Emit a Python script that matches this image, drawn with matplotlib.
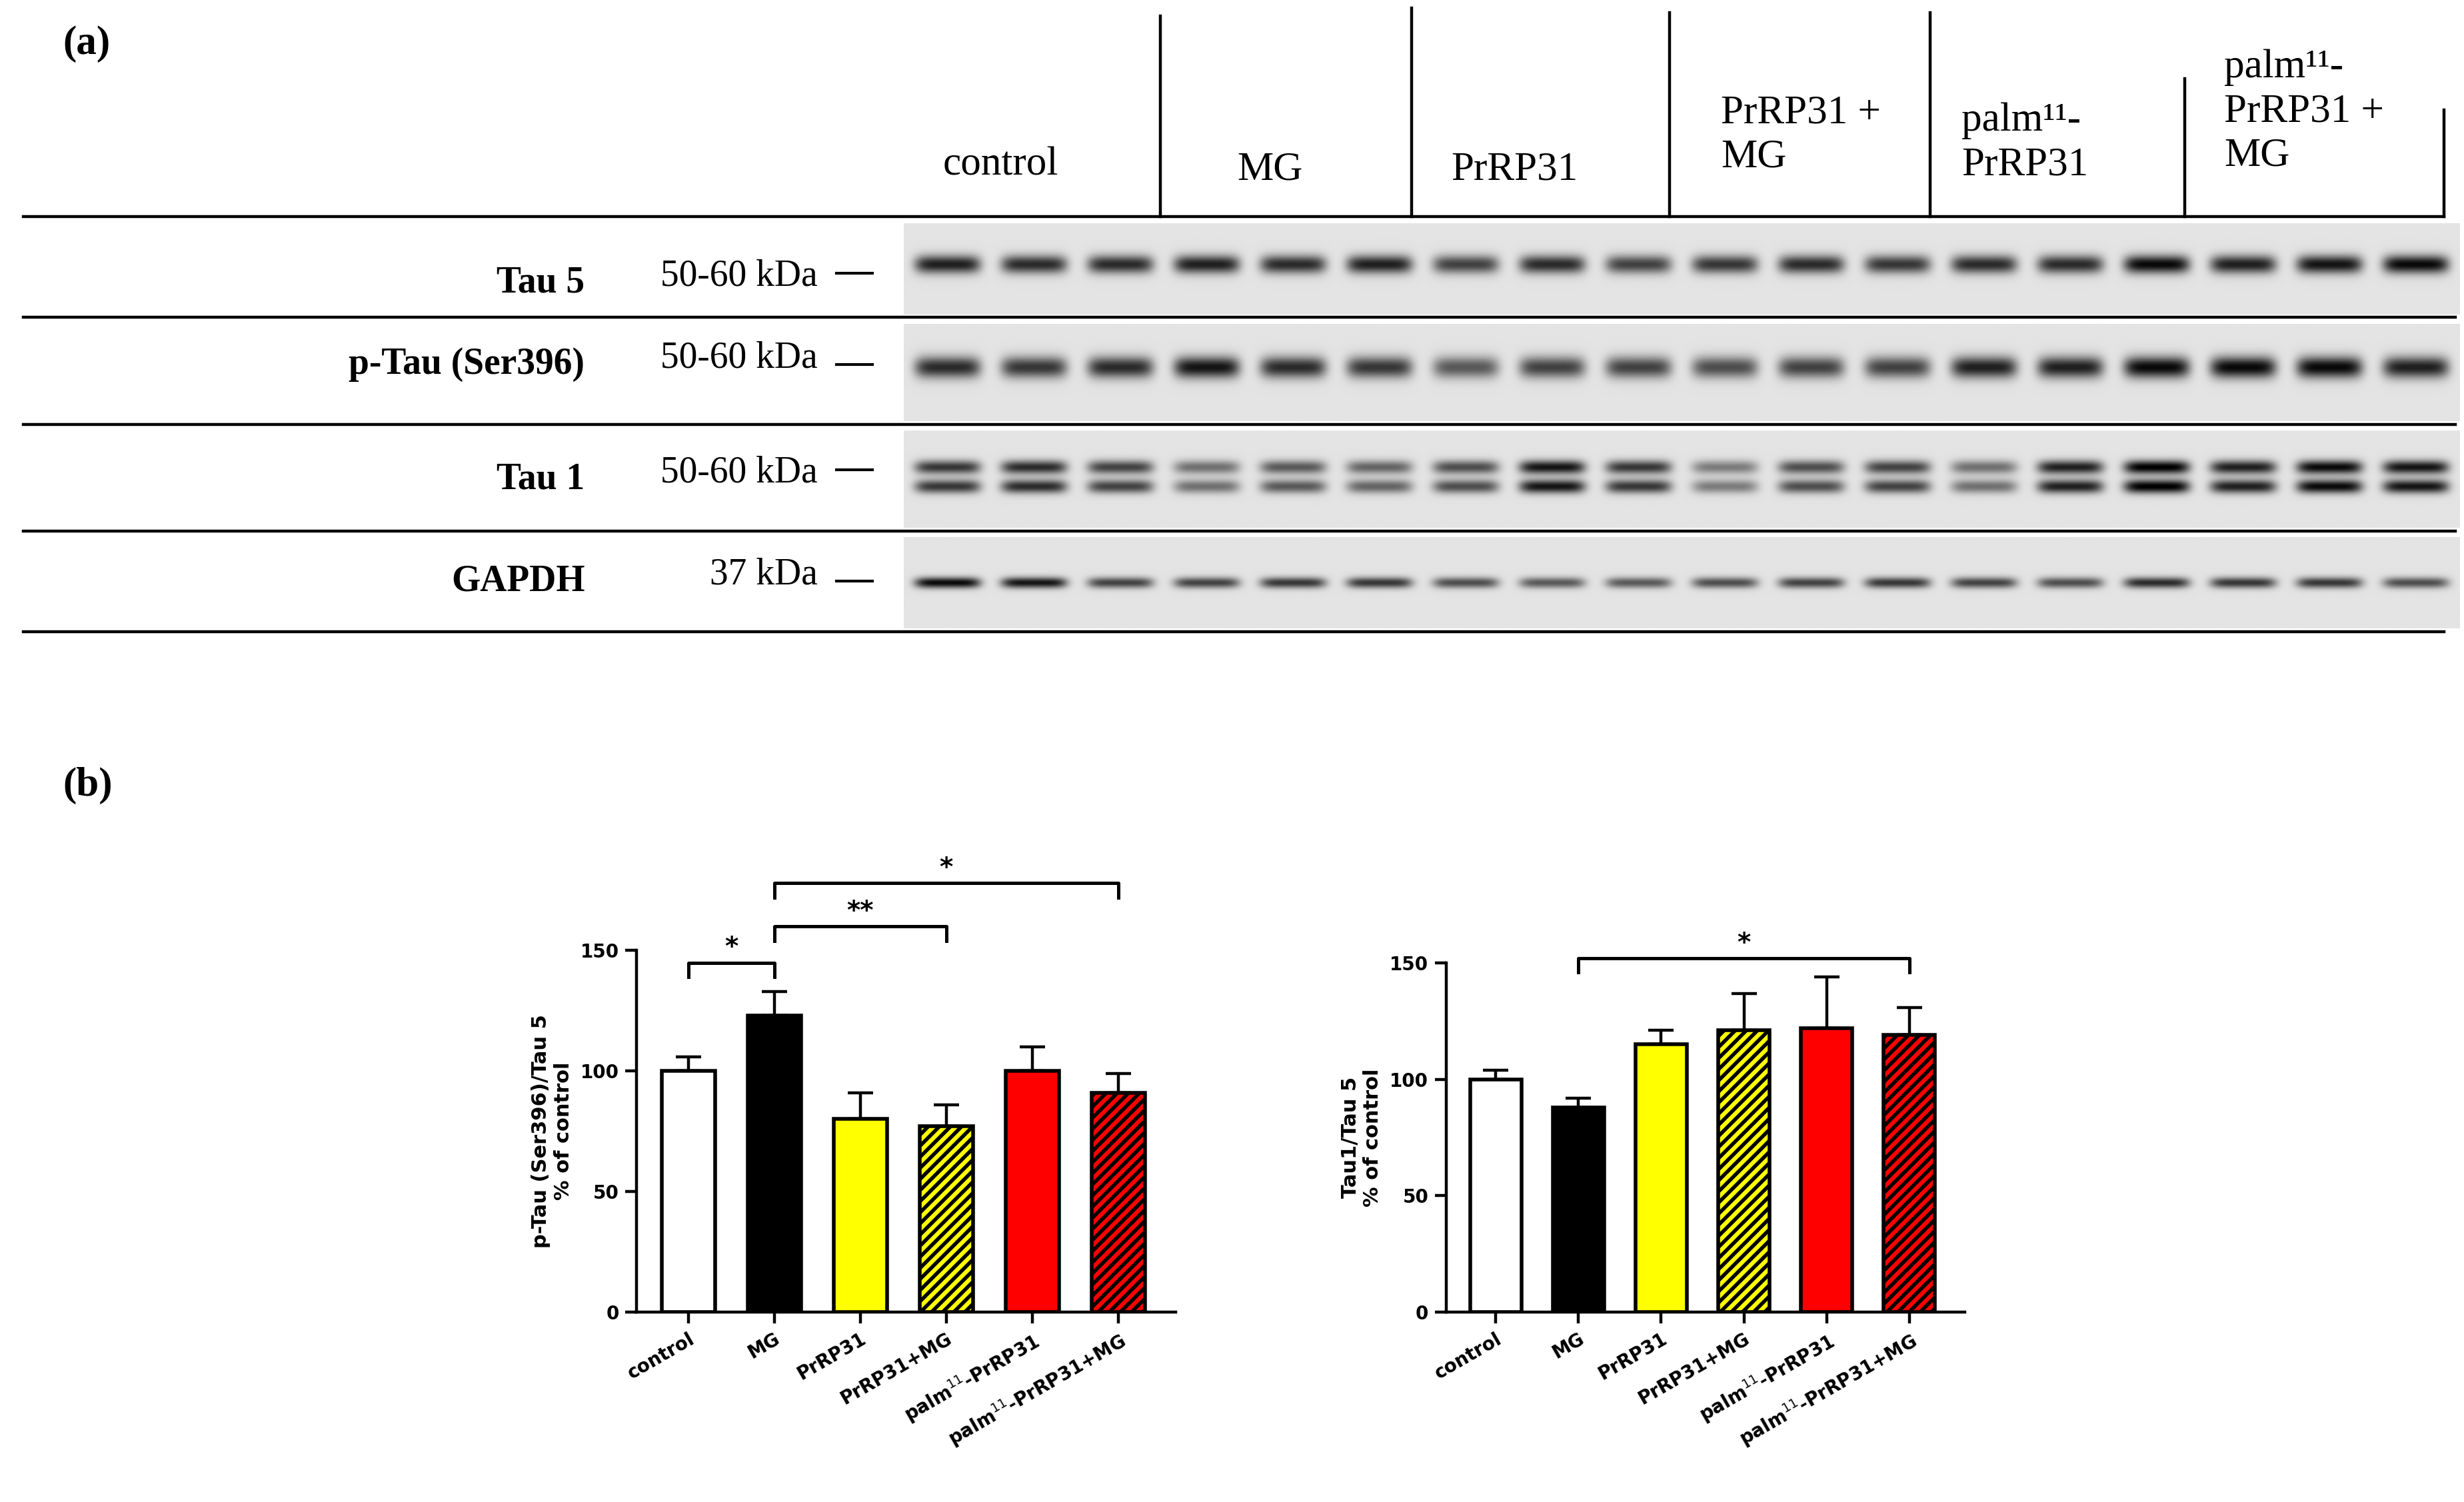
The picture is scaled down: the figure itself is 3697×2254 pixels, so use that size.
import numpy as np
import matplotlib
matplotlib.use("Agg")
import matplotlib.pyplot as plt
from matplotlib.lines import Line2D

# ---- data ----
groups = ["control", "MG", "PrRP31", "PrRP31+MG", "palm$^{11}$-PrRP31", "palm$^{11}$-PrRP31+MG"]
header_labels = ["control", "MG", "PrRP31", "PrRP31 +\nMG", "palm¹¹-\nPrRP31", "palm¹¹-\nPrRP31 +\nMG"]
blot_names = ["Tau 5", "p-Tau (Ser396)", "Tau 1", "GAPDH"]
blot_kda = ["50-60 kDa", "50-60 kDa", "50-60 kDa", "37 kDa"]
tau5 = [0.85, 0.8, 0.8, 0.85, 0.8, 0.85, 0.7, 0.8, 0.7, 0.75, 0.8, 0.75, 0.8, 0.8, 0.95, 0.85, 0.9, 0.95]
ptau = [0.8, 0.75, 0.8, 0.9, 0.8, 0.75, 0.6, 0.7, 0.7, 0.65, 0.7, 0.7, 0.85, 0.85, 0.95, 0.95, 0.95, 0.85]
tau1 = [0.75, 0.8, 0.7, 0.5, 0.6, 0.55, 0.65, 0.9, 0.75, 0.45, 0.65, 0.7, 0.5, 0.85, 1.0, 0.85, 0.95, 0.9]
gapdh = [0.95, 0.9, 0.7, 0.7, 0.75, 0.75, 0.65, 0.6, 0.6, 0.65, 0.7, 0.75, 0.7, 0.65, 0.8, 0.75, 0.75, 0.65]

ptau_mean = [100, 123, 80, 77, 100, 91]
ptau_err = [6, 10, 11, 9, 10, 8]
tau1_mean = [100, 88, 115, 121, 122, 119]
tau1_err = [4, 4, 6, 16, 22, 12]

W, H = 1568, 956
def fx(x): return x / W
def fy(y): return 1 - y / H

fig = plt.figure(figsize=(18.49, 11.27), dpi=200)
serif = "Liberation Serif"

def hline(x0, x1, y, lw=1.6):
    fig.add_artist(Line2D([fx(x0), fx(x1)], [fy(y), fy(y)], color="black", lw=lw, transform=fig.transFigure))
def vline(x, y0, y1, lw=1.6):
    fig.add_artist(Line2D([fx(x), fx(x)], [fy(y0), fy(y1)], color="black", lw=lw, transform=fig.transFigure))

fig.text(fx(40), fy(28), "(a)", fontsize=22, fontweight="bold", family=serif, va="center")
fig.text(fx(40), fy(500), "(b)", fontsize=22, fontweight="bold", family=serif, va="center")

# header
hline(15, 1555, 138)
for x, y0 in zip([738, 898, 1062, 1228, 1390, 1555], [10, 5, 8, 8, 50, 70]):
    vline(x, y0, 138)
hpos = [(600, 105), (787, 108), (923, 108), (1095, 86), (1248, 91), (1415, 71)]
for (x, y), lab in zip(hpos, header_labels):
    fig.text(fx(x), fy(y), lab, fontsize=22, family=serif, va="center", ha="left", linespacing=1.25)

# blots
rows = [(140, 202, tau5, [0.45], 0.10), (204, 270, ptau, [0.45], 0.11),
        (272, 338, tau1, [0.38, 0.58], 0.07), (340, 402, gapdh, [0.5], 0.06)]
label_y = [180, 232, 305, 370]
for i, (y0, y1, inten, centers, sig) in enumerate(rows):
    ax = fig.add_axes([fx(575), fy(y1 - 2), fx(1565) - fx(575), fy(y0 + 2) - fy(y1 - 2)])
    nx, ny = 900, 60
    xs = np.linspace(0, 18, nx)
    ys = np.linspace(0, 1, ny)
    img = np.full((ny, nx), 0.12)
    for k, v in enumerate(inten):
        lane = np.exp(-((xs - (k + 0.5)) / 0.38) ** 6)
        for c in centers:
            img += v * np.outer(np.exp(-((ys - c) / sig) ** 2), lane)
    ax.imshow(img, cmap="gray_r", vmin=0, vmax=1.1, aspect="auto", extent=[0, 18, 1, 0])
    ax.axis("off")
    fig.text(fx(372), fy(label_y[i]), blot_names[i], fontsize=20, fontweight="bold", family=serif, ha="right", va="center")
    fig.text(fx(520), fy(label_y[i] - 4), blot_kda[i], fontsize=20, family=serif, ha="right", va="center")
    hline(532, 555, label_y[i] - 4 + (4 if i in (1, 3) else -2), lw=1.5)
for y in [202, 270, 338]:
    hline(15, 1562, y)
hline(15, 1555, 402)

# bar charts
colors = ["white", "black", "yellow", "yellow", "red", "red"]
hatches = [None, None, None, "////", None, "////"]

def barplot(rect, means, errs, ylabel, brackets, top):
    ax = fig.add_axes(rect)
    x = np.arange(len(means))
    plt.rcParams["hatch.linewidth"] = 2.0
    ax.bar(x, means, width=0.62, color=colors, edgecolor="black", linewidth=2, hatch=hatches, zorder=2)
    ax.errorbar(x, means, yerr=[np.zeros(len(errs)), errs], fmt="none", ecolor="black", capsize=7, elinewidth=1.6, capthick=1.6, zorder=1)
    ax.set_ylim(0, top)
    ax.set_xlim(-0.6, 5.67)
    ax.set_yticks([0, 50, 100, 150])
    ax.spines["top"].set_visible(False)
    ax.spines["right"].set_visible(False)
    ax.spines["left"].set_bounds(0, 150)
    for s in ["left", "bottom"]:
        ax.spines[s].set_linewidth(1.6)
    ax.tick_params(width=1.6, length=6, labelsize=10)
    ax.set_xticks(x)
    ax.set_xticklabels(groups, rotation=30, ha="right", rotation_mode="anchor", fontweight="bold", fontsize=10)
    for t in ax.get_yticklabels():
        t.set_fontweight("bold")
    ax.set_ylabel(ylabel, fontsize=11, fontweight="bold")
    for a, b, h, s in brackets:
        ax.plot([a, a, b, b], [h - 6, h, h, h - 6], color="black", lw=1.8, clip_on=False)
        ax.text((a + b) / 2, h + 1, s, ha="center", va="bottom", fontsize=14, fontweight="bold")
    return ax

barplot([fx(405), fy(835), fx(748) - fx(405), fy(605) - fy(835)], ptau_mean, ptau_err,
        "p-Tau (Ser396)/Tau 5\n% of control",
        [(0, 1, 145, "*"), (1, 3, 160, "**"), (1, 5, 178, "*")], 150)
barplot([fx(920), fy(835), fx(1250) - fx(920), fy(613) - fy(835)], tau1_mean, tau1_err,
        "Tau1/Tau 5\n% of control",
        [(1, 5, 152, "*")], 150)

fig.savefig("out.png", dpi=200)
